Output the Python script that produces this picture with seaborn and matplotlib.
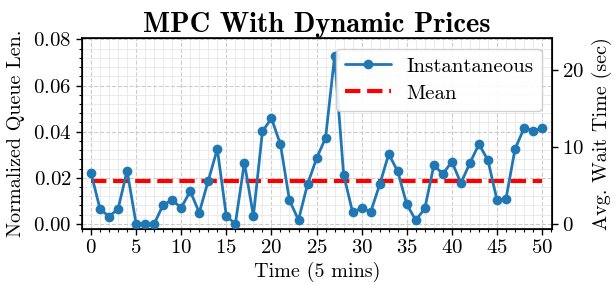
import numpy as np
import pandas as pd
import matplotlib
matplotlib.use("Agg")
import matplotlib.pyplot as plt
import seaborn as sns
from matplotlib.ticker import MultipleLocator

# data
time_steps = list(range(51))
queue_len = [
    0.0221, 0.0065, 0.0032, 0.0065, 0.0231, 0.0000, 0.0000, 0.0000, 0.0083, 0.0103,
    0.0070, 0.0142, 0.0049, 0.0188, 0.0325, 0.0034, 0.0000, 0.0266, 0.0034, 0.0401,
    0.0458, 0.0345, 0.0102, 0.0017, 0.0172, 0.0284, 0.0373, 0.0728, 0.0214, 0.0050,
    0.0069, 0.0052, 0.0171, 0.0303, 0.0228, 0.0085, 0.0016, 0.0067, 0.0254, 0.0217,
    0.0270, 0.0177, 0.0264, 0.0346, 0.0276, 0.0103, 0.0109, 0.0325, 0.0415, 0.0405,
    0.0414,
]
mean_queue = 0.0188
mean_x = [0, 50]
wait_per_queue = 300  # sec per unit of normalized queue length

sns.set_style("ticks")
plt.rcParams["font.family"] = ["cmr10", "DejaVu Serif"]
plt.rcParams["mathtext.fontset"] = "cm"
plt.rcParams["axes.formatter.use_mathtext"] = True
for k in ["text.color", "axes.labelcolor", "xtick.color", "ytick.color", "axes.edgecolor"]:
    plt.rcParams[k] = "black"

df = pd.DataFrame({"t": time_steps, "q": queue_len})
df_mean = pd.DataFrame({"t": mean_x, "q": [mean_queue, mean_queue]})

fig, ax = plt.subplots(figsize=(6.15, 2.84), dpi=100)

sns.lineplot(data=df_mean, x="t", y="q", ax=ax, color="red", lw=3,
             linestyle="--", label="Mean", zorder=3)
sns.lineplot(data=df, x="t", y="q", ax=ax, color="#1f77b4", lw=2,
             marker="o", markersize=7, markeredgewidth=0,
             label="Instantaneous", zorder=4)

ax.set_xlim(-1, 51.1)
ax.set_ylim(-0.0022, 0.0805)
ax.xaxis.set_major_locator(MultipleLocator(5))
ax.xaxis.set_minor_locator(MultipleLocator(1))
ax.yaxis.set_major_locator(MultipleLocator(0.02))
ax.yaxis.set_minor_locator(MultipleLocator(0.004))
ax.grid(which="major", color="#cccccc", linestyle="--", lw=0.8)
ax.grid(which="minor", color="#e8e8e8", linestyle="-", lw=0.6)
ax.tick_params(which="major", labelsize=15, length=4, width=1)
ax.tick_params(which="minor", length=2, width=0.8)
ax.set_xlabel("Time (5 mins)", fontsize=14.5, labelpad=3)
ax.set_ylabel("Normalized Queue Len.", fontsize=14.5, labelpad=6)
ax.set_title("MPC With Dynamic Prices", fontsize=20.5, family="cmb10", pad=4)
for s in ax.spines.values():
    s.set_linewidth(1.2)

handles, labels = ax.get_legend_handles_labels()
ax.legend(handles[::-1], labels[::-1], loc="upper right", fontsize=15,
          framealpha=0.9, edgecolor="#cccccc", handlelength=2.2,
          handletextpad=0.75, borderaxespad=0.5, labelspacing=0.4,
          borderpad=0.4)

ax2 = ax.twinx()
lo, hi = ax.get_ylim()
ax2.set_ylim(lo * wait_per_queue, hi * wait_per_queue)
ax2.yaxis.set_major_locator(MultipleLocator(10))
ax2.tick_params(labelsize=15, length=4, width=1)
ax2.set_ylabel("Avg. Wait Time (sec)", fontsize=14.5, labelpad=5)
ax2.grid(False)

fig.subplots_adjust(left=0.1333, right=0.8976, bottom=0.1937, top=0.865)
fig.savefig("out.png", dpi=100)
